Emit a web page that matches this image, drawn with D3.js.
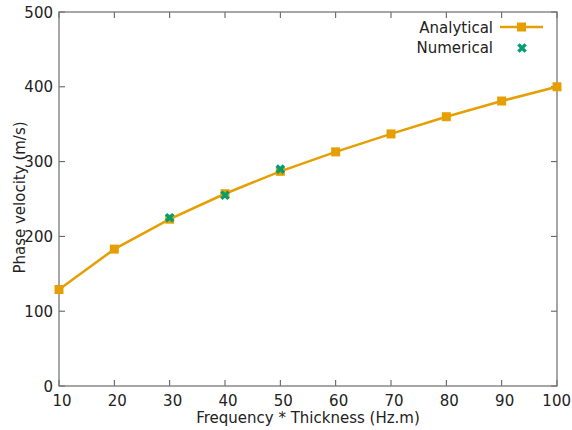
<!DOCTYPE html>
<html><head><meta charset="utf-8">
<script src="https://cdn.jsdelivr.net/npm/d3@7"></script>
<style>body{margin:0;background:#fff}svg{display:block}text{font-family:"DejaVu Sans",Verdana,sans-serif;fill:#222}</style>
</head><body><svg id="c" width="572" height="430"></svg>
<script>
const freqThickness = [10,20,30,40,50,60,70,80,90,100];
const analytical = [129,183,223,257,287,313,337,360,381,400];
const numericalX = [30,40,50];
const numerical = [225,255,290];
const xTicks = [10,20,30,40,50,60,70,80,90,100];
const yTicks = [0,100,200,300,400,500];
const seriesNames = ["Analytical","Numerical"];

const svg = d3.select("#c");
const W=572;
const L=59,R=557,T=12,B=386;
const x = d3.scaleLinear().domain([10,100]).range([L,R]);
const y = d3.scaleLinear().domain([0,500]).range([B,T]);
const orange="#E69F00", green="#009E73", fs=15;

// ticks (inward, mirrored)
const g = svg.append("g");
xTicks.forEach(t=>{
  g.append("line").attr("x1",x(t)).attr("x2",x(t)).attr("y1",B).attr("y2",B-6).attr("stroke","#555");
  g.append("line").attr("x1",x(t)).attr("x2",x(t)).attr("y1",T).attr("y2",T+6).attr("stroke","#555");
  const tx = g.append("text").attr("x",x(t)+3).attr("y",B+19.5).attr("text-anchor","middle").attr("font-size",fs).text(t);
  const w = tx.node().getComputedTextLength();
  const cx = Math.min(x(t)+3, W-1-w/2);
  tx.attr("x",cx);
});
yTicks.forEach(t=>{
  g.append("line").attr("x1",L).attr("x2",L+6).attr("y1",y(t)).attr("y2",y(t)).attr("stroke","#555");
  g.append("line").attr("x1",R).attr("x2",R-6).attr("y1",y(t)).attr("y2",y(t)).attr("stroke","#555");
  g.append("text").attr("x",L-6).attr("y",y(t)+5.5).attr("text-anchor","end").attr("font-size",fs).text(t);
});
svg.append("rect").attr("x",L).attr("y",T).attr("width",R-L).attr("height",B-T)
  .attr("fill","none").attr("stroke","#777").attr("stroke-width",1.3);

// axis labels
svg.append("text").attr("transform",`translate(24.5,197.5) rotate(-90)`).attr("text-anchor","middle")
  .attr("font-size",fs).text("Phase velocity (m/s)");
svg.append("text").attr("x",308).attr("y",423).attr("text-anchor","middle")
  .attr("font-size",fs).text("Frequency * Thickness (Hz.m)");

// analytical line
const line = d3.line().x((d,i)=>x(freqThickness[i])).y(d=>y(d));
svg.append("path").datum(analytical).attr("d",line).attr("fill","none")
  .attr("stroke",orange).attr("stroke-width",2.5);
const sq=9;
svg.selectAll(".sq").data(analytical).enter().append("rect")
  .attr("x",(d,i)=>x(freqThickness[i])-sq/2).attr("y",d=>y(d)-sq/2)
  .attr("width",sq).attr("height",sq).attr("fill",orange);

// numerical X markers
const cross = (cx,cy,s)=>`M${cx-s},${cy-s}L${cx+s},${cy+s}M${cx-s},${cy+s}L${cx+s},${cy-s}`;
svg.selectAll(".nx").data(numerical).enter().append("path")
  .attr("d",(d,i)=>cross(x(numericalX[i]),y(d),3.6)).attr("stroke",green).attr("stroke-width",3.4).attr("fill","none");

// legend
svg.append("text").attr("x",493).attr("y",33).attr("text-anchor","end").attr("font-size",fs).text(seriesNames[0]);
svg.append("line").attr("x1",500).attr("x2",543).attr("y1",27).attr("y2",27).attr("stroke",orange).attr("stroke-width",2.5);
svg.append("rect").attr("x",521.5-sq/2).attr("y",27-sq/2).attr("width",sq).attr("height",sq).attr("fill",orange);
svg.append("text").attr("x",493).attr("y",53).attr("text-anchor","end").attr("font-size",fs).text(seriesNames[1]);
svg.append("path").attr("d",cross(522,48,3.6)).attr("stroke",green).attr("stroke-width",3.4);
</script></body></html>
